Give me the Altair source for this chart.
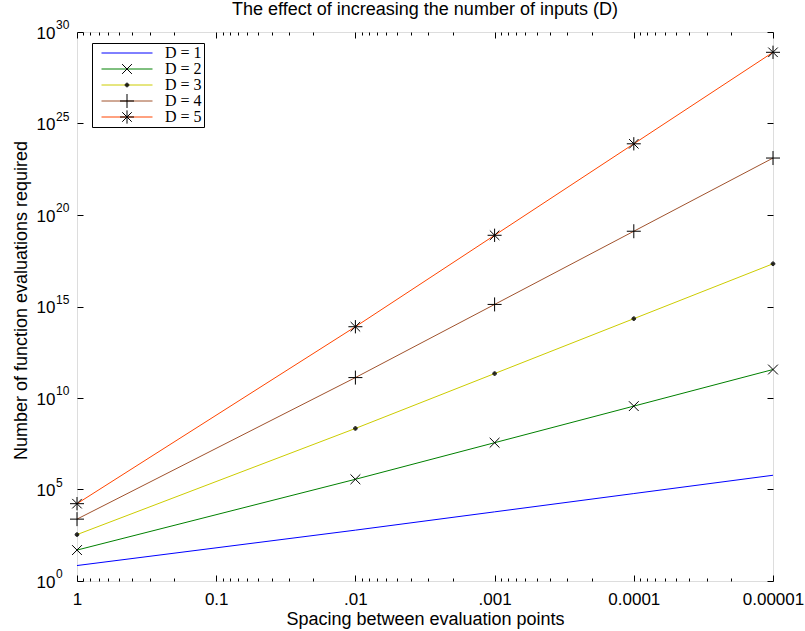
import json
import altair as alt
import pandas as pd

# ---------------- data ----------------
spacing = [1, 0.01, 0.001, 0.0001, 0.00001]
series_labels = ["D = 1", "D = 2", "D = 3", "D = 4", "D = 5"]
evals_d1 = [7, 601, 6001, 60001, 600001]
evals_d2 = [49, 361201, 3.6012e7, 3.6001e9, 3.6e11]
evals_d3 = [343, 2.1708e8, 2.161e11, 2.1601e14, 2.16e17]
evals_d4 = [2401, 1.3047e11, 1.2968e15, 1.2961e19, 1.296e23]
evals_d5 = [16807, 7.841e13, 7.782e18, 7.7765e23, 7.776e28]

x_tick_values = [1, 0.1, 0.01, 0.001, 0.0001, 0.00001]
x_tick_labels = ["1", "0.1", ".01", ".001", "0.0001", "0.00001"]
x_minor_values = [m * 10.0 ** -k for k in range(1, 6) for m in range(2, 10)]
y_tick_values = [1e0, 1e5, 1e10, 1e15, 1e20, 1e25, 1e30]

title_text = "The effect of increasing the number of inputs (D)"
x_title = "Spacing between evaluation points"
y_title = "Number of function evaluations required"

# ---------------- styles ----------------
line_colors = ["#0000ff", "#008000", "#cccc00", "#a0522d", "#ff4500"]
marker_paths = [
    "M0,0",
    "M-0.7,-0.7L0.7,0.7M-0.7,0.7L0.7,-0.7",
    "M-0.26,0A0.26,0.26 0 1,0 0.26,0A0.26,0.26 0 1,0 -0.26,0"
    "M-0.16,0A0.16,0.16 0 1,0 0.16,0A0.16,0.16 0 1,0 -0.16,0"
    "M-0.06,0A0.06,0.06 0 1,0 0.06,0A0.06,0.06 0 1,0 -0.06,0",
    "M-1,0L1,0M0,-1L0,1",
    "M-1,0L1,0M0,-0.95L0,0.95M-0.68,-0.68L0.68,0.68M-0.68,0.68L0.68,-0.68",
]
SANS = "Liberation Sans"
SERIF = "Liberation Serif"
FS = 18

rows = []
for label, vals in zip(series_labels, [evals_d1, evals_d2, evals_d3, evals_d4, evals_d5]):
    for s, v in zip(spacing, vals):
        rows.append({"spacing": s, "evals": v, "series": label, "marker": label})
df = pd.DataFrame(rows)

xscale = alt.Scale(type="log", domain=[0.00001, 1], reverse=True, nice=False)
yscale = alt.Scale(type="log", domain=[1, 1e30], nice=False)

x_label_expr = json.dumps(x_tick_labels) + "[round(-log(datum.value)/LN10)]"

base = alt.Chart(df)

lines = base.mark_line(strokeWidth=1, clip=False).encode(
    x=alt.X(
        "spacing:Q", scale=xscale, title=x_title,
        axis=alt.Axis(
            orient="bottom", values=x_tick_values, labelExpr=x_label_expr,
            offset=-6, tickSize=6, tickColor="black", domain=False, grid=False,
            labelFlush=False, labelOverlap=False, labelPadding=23,
            labelBaseline="alphabetic", labelFont=SANS, labelFontSize=FS - 1,
            labelColor="black", titleFont=SANS, titleFontSize=FS,
            titleFontWeight="normal", titleColor="black",
            titleBaseline="alphabetic", titleY=49,
        ),
    ),
    y=alt.Y(
        "evals:Q", scale=yscale, title=y_title,
        axis=alt.Axis(
            orient="left", values=y_tick_values, labelExpr="'10'",
            offset=-6, tickSize=6, tickColor="black", domain=False, grid=False,
            labelFlush=False, labelOverlap=False, labelPadding=22,
            labelAlign="right", labelBaseline="middle", labelOffset=1,
            labelFont=SANS, labelFontSize=FS - 1, labelColor="black",
            titleFont=SANS, titleFontSize=FS, titleFontWeight="normal",
            titleColor="black", titleBaseline="alphabetic",
            titleX=-57, titleY=268, titleAngle=270, titleAlign="center",
        ),
    ),
    color=alt.Color(
        "series:N",
        scale=alt.Scale(domain=series_labels, range=line_colors),
        legend=alt.Legend(
            title=None, orient="none", legendX=15, legendY=11, padding=2,
            clipHeight=16, rowPadding=0, symbolType="stroke", symbolSize=2601,
            symbolStrokeWidth=1, symbolOffset=7, labelOffset=12,
            labelFont=SERIF, labelFontSize=16, labelColor="black",
            labelBaseline="middle", labelLimit=300, strokeColor="black",
        ),
    ),
)

points = base.mark_point(filled=False, size=196, strokeWidth=1, color="black", opacity=1, clip=False).encode(
    x=alt.X(
        "spacing:Q", scale=xscale, title=None,
        axis=alt.Axis(
            orient="bottom", values=x_minor_values, labels=False, domain=False,
            grid=False, offset=-3, tickSize=3, tickColor="black",
        ),
    ),
    y=alt.Y(
        "evals:Q", scale=yscale, title=None,
        axis=alt.Axis(
            orient="left", values=y_tick_values, ticks=False, domain=False, grid=False,
            labelExpr="'' + round(log(datum.value)/LN10)", labelAlign="left",
            labelBaseline="middle", labelPadding=21.5, labelOffset=-7.5,
            labelFont=SANS, labelFontSize=12, labelColor="black",
            labelOverlap=False, labelFlush=False,
        ),
    ),
    shape=alt.Shape(
        "marker:N",
        scale=alt.Scale(range=marker_paths),
        legend=alt.Legend(
            title=None, orient="none", legendX=15, legendY=11, padding=2,
            clipHeight=16, rowPadding=0, symbolSize=196, symbolStrokeWidth=1,
            symbolStrokeColor="black", symbolFillColor="transparent",
            symbolOffset=25.5, labelExpr="''", labelFontSize=1,
        ),
    ),
)

ticks_major = base.mark_point(opacity=0).encode(
    x=alt.X(
        "spacing:Q", scale=xscale, title=None,
        axis=alt.Axis(
            orient="top", values=x_tick_values, labels=False, domain=False,
            grid=False, offset=-6, tickSize=6, tickColor="black",
        ),
    ),
    y=alt.Y(
        "evals:Q", scale=yscale, title=None,
        axis=alt.Axis(
            orient="right", values=y_tick_values, labels=False, domain=False,
            grid=False, offset=-6, tickSize=6, tickColor="black",
        ),
    ),
)

ticks_minor = base.mark_point(opacity=0).encode(
    x=alt.X(
        "spacing:Q", scale=xscale, title=None,
        axis=alt.Axis(
            orient="top", values=x_minor_values, labels=False, domain=False,
            grid=False, offset=-3, tickSize=3, tickColor="black",
        ),
    ),
    y=alt.Y("evals:Q", scale=yscale, axis=None),
)

chart = (
    alt.layer(lines, points, ticks_major, ticks_minor)
    .resolve_axis(x="independent", y="independent")
    .properties(
        width=696,
        height=549,
        padding={"left": 77, "top": 32, "right": 32, "bottom": 50},
        autosize=alt.AutoSizeParams(type="none"),
        title=alt.TitleParams(
            text=title_text, font=SANS, fontSize=FS, fontWeight="normal",
            color="black", baseline="alphabetic", offset=0.5, dy=14.5,
            anchor="middle",
        ),
    )
    .configure_view(stroke="black", strokeWidth=1)
    .configure(background="white")
)

chart.save("out.html", embed_options={"renderer": "svg", "actions": False})
